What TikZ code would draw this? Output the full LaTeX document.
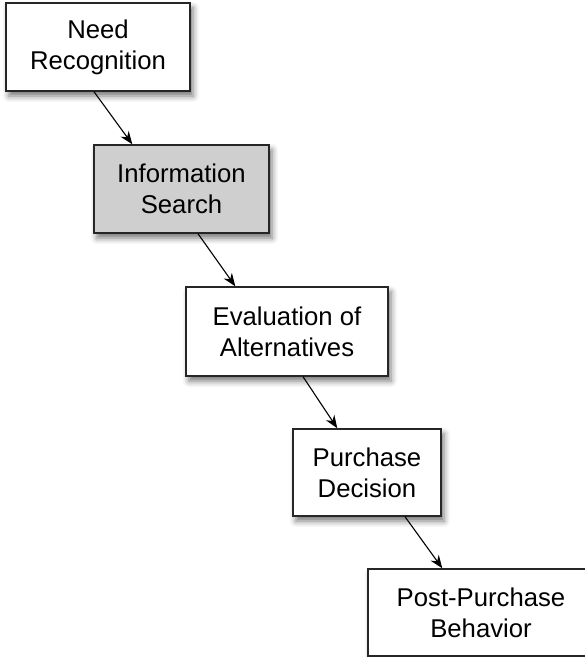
\documentclass[tikz,border=0pt]{standalone}
\usepackage{fontspec}
\setmainfont{Liberation Sans}
\usetikzlibrary{calc,shadows.blur,arrows.meta}
\begin{document}
\begin{tikzpicture}[x=1bp,y=-1bp,
  stage/.style={draw=black!85, line width=1.4bp, fill=white, align=center,
    inner sep=0pt, font=\fontsize{25.8}{31}\selectfont,
    blur shadow={shadow xshift=3bp, shadow yshift=-5bp, shadow blur radius=6bp, shadow opacity=55}},
  link/.style={line width=1.1bp, -{Stealth[length=13bp,width=10bp]}}]
\useasboundingbox (0,0) rectangle (585,657);
\node[stage, minimum width=184bp, minimum height=88bp] (b1) at (98,47) {Need\\Recognition};
\node[stage, fill=black!19, minimum width=175bp, minimum height=88bp] (b2) at (181.5,189) {Information\\Search};
\node[stage, minimum width=202bp, minimum height=89bp] (b3) at (287,331.5) {Evaluation of\\Alternatives};
\node[stage, minimum width=148bp, minimum height=87bp] (b4) at (367,472.5) {Purchase\\Decision};
\node[stage, minimum width=226bp, minimum height=87bp] (b5) at (481,612.5) {Post-Purchase\\Behavior};
\draw[link] ($(b1.south)+(-4,0)$) -- ($(b2.north west)+(39,0)$);
\draw[link] ($(b2.south)+(16.5,0)$) -- ($(b3.north west)+(50,0)$);
\draw[link] ($(b3.south)+(16,0)$) -- ($(b4.north west)+(45,0)$);
\draw[link] ($(b4.south)+(38,0)$) -- ($(b5.north west)+(75,0)$);
\end{tikzpicture}
\end{document}
